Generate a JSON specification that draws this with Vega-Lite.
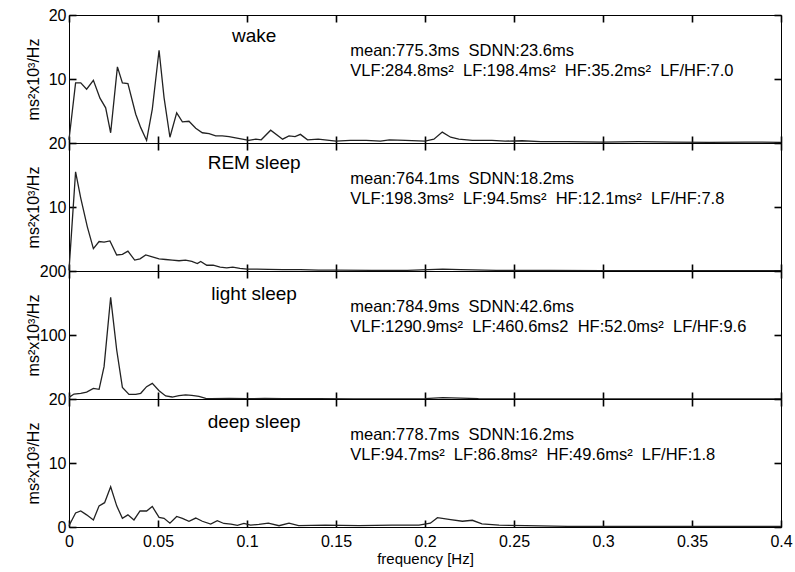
{
  "$schema": "https://vega.github.io/schema/vega-lite/v6.json",
  "padding": {"left": 15, "top": 6, "right": 0, "bottom": 0},
  "background": "white",
  "datasets": {
    "wake": [
      {"f":0,"p":0.5},{"f":0.0037,"p":9.4},{"f":0.0066,"p":9.4},{"f":0.0099,"p":8.4},{"f":0.0137,"p":9.8},{"f":0.0174,"p":7.0},{"f":0.0206,"p":5.5},{"f":0.0234,"p":1.6},{"f":0.0272,"p":11.9},{"f":0.030,"p":9.4},{"f":0.0331,"p":9.3},{"f":0.0375,"p":4.5},{"f":0.0403,"p":2.4},{"f":0.0436,"p":0.4},{"f":0.0468,"p":5.3},{"f":0.0506,"p":14.5},{"f":0.0534,"p":7.1},{"f":0.0567,"p":0.9},{"f":0.0605,"p":4.7},{"f":0.0637,"p":3.3},{"f":0.0674,"p":3.4},{"f":0.0712,"p":2.3},{"f":0.0749,"p":1.6},{"f":0.0787,"p":1.45},{"f":0.0824,"p":1.1},{"f":0.0861,"p":1.1},{"f":0.0899,"p":1.0},{"f":0.0936,"p":0.8},{"f":0.0974,"p":0.6},{"f":0.101,"p":0.4},{"f":0.105,"p":0.6},{"f":0.108,"p":0.5},{"f":0.1133,"p":2.0},{"f":0.12,"p":0.6},{"f":0.1236,"p":1.1},{"f":0.127,"p":1.0},{"f":0.130,"p":1.35},{"f":0.134,"p":0.5},{"f":0.140,"p":0.6},{"f":0.150,"p":0.3},{"f":0.158,"p":0.4},{"f":0.167,"p":0.4},{"f":0.175,"p":0.3},{"f":0.180,"p":0.5},{"f":0.189,"p":0.4},{"f":0.200,"p":0.3},{"f":0.205,"p":0.6},{"f":0.2097,"p":1.7},{"f":0.2144,"p":0.9},{"f":0.219,"p":0.6},{"f":0.2266,"p":0.4},{"f":0.2376,"p":0.4},{"f":0.245,"p":0.3},{"f":0.2545,"p":0.35},{"f":0.265,"p":0.2},{"f":0.28,"p":0.2},{"f":0.30,"p":0.15},{"f":0.32,"p":0.2},{"f":0.34,"p":0.15},{"f":0.36,"p":0.1},{"f":0.38,"p":0.15},{"f":0.4,"p":0.1}
    ],
    "rem": [
      {"f":0,"p":0.1},{"f":0.0037,"p":15.5},{"f":0.0066,"p":11.4},{"f":0.0103,"p":6.9},{"f":0.0137,"p":3.5},{"f":0.0169,"p":4.6},{"f":0.0197,"p":4.5},{"f":0.023,"p":4.7},{"f":0.0268,"p":2.5},{"f":0.030,"p":2.6},{"f":0.0331,"p":3.1},{"f":0.0369,"p":1.7},{"f":0.0399,"p":1.9},{"f":0.0431,"p":2.5},{"f":0.0468,"p":2.2},{"f":0.0506,"p":1.9},{"f":0.0543,"p":1.8},{"f":0.058,"p":1.7},{"f":0.0618,"p":1.6},{"f":0.0655,"p":1.7},{"f":0.069,"p":1.5},{"f":0.0721,"p":1.15},{"f":0.074,"p":1.5},{"f":0.0774,"p":0.9},{"f":0.081,"p":0.9},{"f":0.0849,"p":0.6},{"f":0.0886,"p":0.5},{"f":0.092,"p":0.6},{"f":0.096,"p":0.4},{"f":0.1,"p":0.3},{"f":0.1056,"p":0.3},{"f":0.112,"p":0.25},{"f":0.12,"p":0.2},{"f":0.13,"p":0.2},{"f":0.14,"p":0.15},{"f":0.15,"p":0.15},{"f":0.17,"p":0.1},{"f":0.19,"p":0.1},{"f":0.21,"p":0.3},{"f":0.22,"p":0.2},{"f":0.24,"p":0.1},{"f":0.27,"p":0.1},{"f":0.3,"p":0.05},{"f":0.35,"p":0.05},{"f":0.4,"p":0.05}
    ],
    "light": [
      {"f":0,"p":2.6},{"f":0.0028,"p":7.8},{"f":0.0066,"p":8.9},{"f":0.0099,"p":10.9},{"f":0.0137,"p":16.7},{"f":0.0169,"p":15.2},{"f":0.0197,"p":50.5},{"f":0.0234,"p":158.9},{"f":0.0268,"p":76.6},{"f":0.030,"p":18.2},{"f":0.0337,"p":7.3},{"f":0.0375,"p":7.3},{"f":0.0403,"p":8.9},{"f":0.0436,"p":19.3},{"f":0.0468,"p":24.5},{"f":0.0506,"p":13.0},{"f":0.0543,"p":4.7},{"f":0.058,"p":3.1},{"f":0.0618,"p":5.2},{"f":0.0655,"p":6.3},{"f":0.069,"p":5.7},{"f":0.073,"p":4.2},{"f":0.0768,"p":1.0},{"f":0.08,"p":0.5},{"f":0.09,"p":0.8},{"f":0.1,"p":0.5},{"f":0.11,"p":0.8},{"f":0.12,"p":0.5},{"f":0.14,"p":0.4},{"f":0.16,"p":0.3},{"f":0.18,"p":0.3},{"f":0.2,"p":0.5},{"f":0.21,"p":2.0},{"f":0.22,"p":1.5},{"f":0.23,"p":0.6},{"f":0.25,"p":0.3},{"f":0.3,"p":0.2},{"f":0.35,"p":0.1},{"f":0.4,"p":0.1}
    ],
    "deep": [
      {"f":0,"p":0.2},{"f":0.0037,"p":2.2},{"f":0.0066,"p":2.5},{"f":0.0099,"p":1.9},{"f":0.0137,"p":1.1},{"f":0.0169,"p":3.3},{"f":0.02,"p":3.8},{"f":0.0234,"p":6.3},{"f":0.0268,"p":3.3},{"f":0.030,"p":1.35},{"f":0.0331,"p":1.9},{"f":0.0365,"p":1.1},{"f":0.0399,"p":2.5},{"f":0.0436,"p":2.5},{"f":0.0468,"p":3.2},{"f":0.0506,"p":1.5},{"f":0.0534,"p":1.35},{"f":0.0567,"p":0.6},{"f":0.0605,"p":1.65},{"f":0.0637,"p":1.35},{"f":0.0674,"p":0.9},{"f":0.0712,"p":1.4},{"f":0.0749,"p":0.9},{"f":0.0796,"p":0.45},{"f":0.0833,"p":1.0},{"f":0.087,"p":0.55},{"f":0.091,"p":0.45},{"f":0.0946,"p":0.25},{"f":0.0983,"p":0.55},{"f":0.102,"p":0.3},{"f":0.1067,"p":0.4},{"f":0.112,"p":0.6},{"f":0.118,"p":0.2},{"f":0.1236,"p":0.6},{"f":0.129,"p":0.2},{"f":0.144,"p":0.3},{"f":0.163,"p":0.2},{"f":0.1815,"p":0.3},{"f":0.1966,"p":0.3},{"f":0.203,"p":0.6},{"f":0.207,"p":1.45},{"f":0.2144,"p":1.15},{"f":0.221,"p":0.9},{"f":0.2266,"p":1.05},{"f":0.232,"p":0.5},{"f":0.2416,"p":0.3},{"f":0.2566,"p":0.2},{"f":0.28,"p":0.1},{"f":0.32,"p":0.1},{"f":0.36,"p":0.1},{"f":0.4,"p":0.1}
    ]
  },
  "vconcat": [
    {
      "width": 712, "height": 128,
      "layer": [
        {"data": {"name": "wake"}, "mark": {"type": "line", "color": "#222", "strokeWidth": 1.3},
         "encoding": {
           "x": {"field": "f", "type": "quantitative", "scale": {"domain": [0, 0.4], "nice": false}, "axis": {"values": [0,0.05,0.1,0.15,0.2,0.25,0.3,0.35,0.4], "labels": false, "title": null, "maxExtent": 0, "minExtent": 0}},
           "y": {"field": "p", "type": "quantitative", "scale": {"domain": [0, 20], "nice": false}, "axis": {"values": [20, 10], "title": "ms²x10³/Hz", "titleX": -43, "titleY": 64, "titleAngle": -90, "titleAlign": "center", "titleBaseline": "middle", "minExtent": 60, "maxExtent": 60}}
         }},
        {"data": {"values": [{"x": 0.104, "y": 16.7, "t": "wake"}]}, "mark": {"type": "text", "fontSize": 19, "align": "center", "baseline": "middle", "font": "Liberation Sans", "color": "#000"},
         "encoding": {
           "x": {"field": "x", "type": "quantitative", "axis": {"orient": "top", "values": [0,0.05,0.1,0.15,0.2,0.25,0.3,0.35,0.4], "labels": false, "title": null, "maxExtent": 0, "minExtent": 0}},
           "y": {"field": "y", "type": "quantitative", "axis": {"orient": "right", "values": [20, 10], "labels": false, "title": null, "maxExtent": 0, "minExtent": 0}},
           "text": {"field": "t"}
         }},
        {"data": {"values": [{"x": 0.158, "y": 14.4, "t": "mean:775.3ms\u00a0 SDNN:23.6ms"}, {"x": 0.158, "y": 11.3, "t": "VLF:284.8ms²\u00a0 LF:198.4ms²\u00a0 HF:35.2ms²\u00a0 LF/HF:7.0"}]}, "mark": {"type": "text", "fontSize": 16.5, "align": "left", "baseline": "middle", "font": "Liberation Sans", "color": "#000"},
         "encoding": {
           "x": {"field": "x", "type": "quantitative", "axis": null},
           "y": {"field": "y", "type": "quantitative", "axis": null},
           "text": {"field": "t"}
         }}
      ],
      "resolve": {"axis": {"x": "independent", "y": "independent"}}
    },
    {
      "width": 712, "height": 128,
      "layer": [
        {"data": {"name": "rem"}, "mark": {"type": "line", "color": "#222", "strokeWidth": 1.3},
         "encoding": {
           "x": {"field": "f", "type": "quantitative", "scale": {"domain": [0, 0.4], "nice": false}, "axis": {"values": [0,0.05,0.1,0.15,0.2,0.25,0.3,0.35,0.4], "labels": false, "title": null, "maxExtent": 0, "minExtent": 0}},
           "y": {"field": "p", "type": "quantitative", "scale": {"domain": [0, 20], "nice": false}, "axis": {"values": [20, 10], "title": "ms²x10³/Hz", "titleX": -43, "titleY": 64, "titleAngle": -90, "titleAlign": "center", "titleBaseline": "middle", "minExtent": 60, "maxExtent": 60}}
         }},
        {"data": {"values": [{"x": 0.104, "y": 16.9, "t": "REM sleep"}]}, "mark": {"type": "text", "fontSize": 19, "align": "center", "baseline": "middle", "font": "Liberation Sans", "color": "#000"},
         "encoding": {
           "x": {"field": "x", "type": "quantitative", "axis": {"orient": "top", "values": [0,0.05,0.1,0.15,0.2,0.25,0.3,0.35,0.4], "labels": false, "title": null, "maxExtent": 0, "minExtent": 0}},
           "y": {"field": "y", "type": "quantitative", "axis": {"orient": "right", "values": [20, 10], "labels": false, "title": null, "maxExtent": 0, "minExtent": 0}},
           "text": {"field": "t"}
         }},
        {"data": {"values": [{"x": 0.158, "y": 14.4, "t": "mean:764.1ms\u00a0 SDNN:18.2ms"}, {"x": 0.158, "y": 11.3, "t": "VLF:198.3ms²\u00a0 LF:94.5ms²\u00a0 HF:12.1ms²\u00a0 LF/HF:7.8"}]}, "mark": {"type": "text", "fontSize": 16.5, "align": "left", "baseline": "middle", "font": "Liberation Sans", "color": "#000"},
         "encoding": {
           "x": {"field": "x", "type": "quantitative", "axis": null},
           "y": {"field": "y", "type": "quantitative", "axis": null},
           "text": {"field": "t"}
         }}
      ],
      "resolve": {"axis": {"x": "independent", "y": "independent"}}
    },
    {
      "width": 712, "height": 128,
      "layer": [
        {"data": {"name": "light"}, "mark": {"type": "line", "color": "#222", "strokeWidth": 1.3},
         "encoding": {
           "x": {"field": "f", "type": "quantitative", "scale": {"domain": [0, 0.4], "nice": false}, "axis": {"values": [0,0.05,0.1,0.15,0.2,0.25,0.3,0.35,0.4], "labels": false, "title": null, "maxExtent": 0, "minExtent": 0}},
           "y": {"field": "p", "type": "quantitative", "scale": {"domain": [0, 200], "nice": false}, "axis": {"values": [200, 100], "title": "ms²x10³/Hz", "titleX": -43, "titleY": 64, "titleAngle": -90, "titleAlign": "center", "titleBaseline": "middle", "minExtent": 60, "maxExtent": 60}}
         }},
        {"data": {"values": [{"x": 0.104, "y": 164.5, "t": "light sleep"}]}, "mark": {"type": "text", "fontSize": 19, "align": "center", "baseline": "middle", "font": "Liberation Sans", "color": "#000"},
         "encoding": {
           "x": {"field": "x", "type": "quantitative", "axis": {"orient": "top", "values": [0,0.05,0.1,0.15,0.2,0.25,0.3,0.35,0.4], "labels": false, "title": null, "maxExtent": 0, "minExtent": 0}},
           "y": {"field": "y", "type": "quantitative", "axis": {"orient": "right", "values": [200, 100], "labels": false, "title": null, "maxExtent": 0, "minExtent": 0}},
           "text": {"field": "t"}
         }},
        {"data": {"values": [{"x": 0.158, "y": 143.7, "t": "mean:784.9ms\u00a0 SDNN:42.6ms"}, {"x": 0.158, "y": 112, "t": "VLF:1290.9ms²\u00a0 LF:460.6ms2\u00a0 HF:52.0ms²\u00a0 LF/HF:9.6"}]}, "mark": {"type": "text", "fontSize": 16.5, "align": "left", "baseline": "middle", "font": "Liberation Sans", "color": "#000"},
         "encoding": {
           "x": {"field": "x", "type": "quantitative", "axis": null},
           "y": {"field": "y", "type": "quantitative", "axis": null},
           "text": {"field": "t"}
         }}
      ],
      "resolve": {"axis": {"x": "independent", "y": "independent"}}
    },
    {
      "width": 712, "height": 128,
      "layer": [
        {"data": {"name": "deep"}, "mark": {"type": "line", "color": "#222", "strokeWidth": 1.3},
         "encoding": {
           "x": {"field": "f", "type": "quantitative", "scale": {"domain": [0, 0.4], "nice": false}, "axis": {"values": [0,0.05,0.1,0.15,0.2,0.25,0.3,0.35,0.4], "format": "~g", "labelFlush": false, "labelPadding": 6, "title": "frequency [Hz]", "titleFontSize": 15, "titlePadding": 2}},
           "y": {"field": "p", "type": "quantitative", "scale": {"domain": [0, 20], "nice": false}, "axis": {"values": [20, 10, 0], "title": "ms²x10³/Hz", "titleX": -43, "titleY": 64, "titleAngle": -90, "titleAlign": "center", "titleBaseline": "middle", "minExtent": 60, "maxExtent": 60}}
         }},
        {"data": {"values": [{"x": 0.104, "y": 16.4, "t": "deep sleep"}]}, "mark": {"type": "text", "fontSize": 19, "align": "center", "baseline": "middle", "font": "Liberation Sans", "color": "#000"},
         "encoding": {
           "x": {"field": "x", "type": "quantitative", "axis": {"orient": "top", "values": [0,0.05,0.1,0.15,0.2,0.25,0.3,0.35,0.4], "labels": false, "title": null, "maxExtent": 0, "minExtent": 0}},
           "y": {"field": "y", "type": "quantitative", "axis": {"orient": "right", "values": [20, 10, 0], "labels": false, "title": null, "maxExtent": 0, "minExtent": 0}},
           "text": {"field": "t"}
         }},
        {"data": {"values": [{"x": 0.158, "y": 14.4, "t": "mean:778.7ms\u00a0 SDNN:16.2ms"}, {"x": 0.158, "y": 11.3, "t": "VLF:94.7ms²\u00a0 LF:86.8ms²\u00a0 HF:49.6ms²\u00a0 LF/HF:1.8"}]}, "mark": {"type": "text", "fontSize": 16.5, "align": "left", "baseline": "middle", "font": "Liberation Sans", "color": "#000"},
         "encoding": {
           "x": {"field": "x", "type": "quantitative", "axis": null},
           "y": {"field": "y", "type": "quantitative", "axis": null},
           "text": {"field": "t"}
         }}
      ],
      "resolve": {"axis": {"x": "independent", "y": "independent"}}
    }
  ],
  "spacing": 0,
  "bounds": "flush",
  "config": {
    "font": "Liberation Sans",
    "view": {"stroke": "#000", "strokeWidth": 1},
    "axis": {
      "grid": false,
      "domain": false,
      "ticks": true,
      "zindex": 1,
      "tickColor": "#000",
      "labelColor": "#000",
      "titleColor": "#000",
      "labelFont": "Liberation Sans",
      "titleFont": "Liberation Sans",
      "labelFontSize": 16,
      "titleFontSize": 16,
      "titleFontWeight": "normal",
      "tickSize": 7,
      "offset": -7,
      "labelPadding": 3,
      "tickWidth": 1.6
    }
  }
}
